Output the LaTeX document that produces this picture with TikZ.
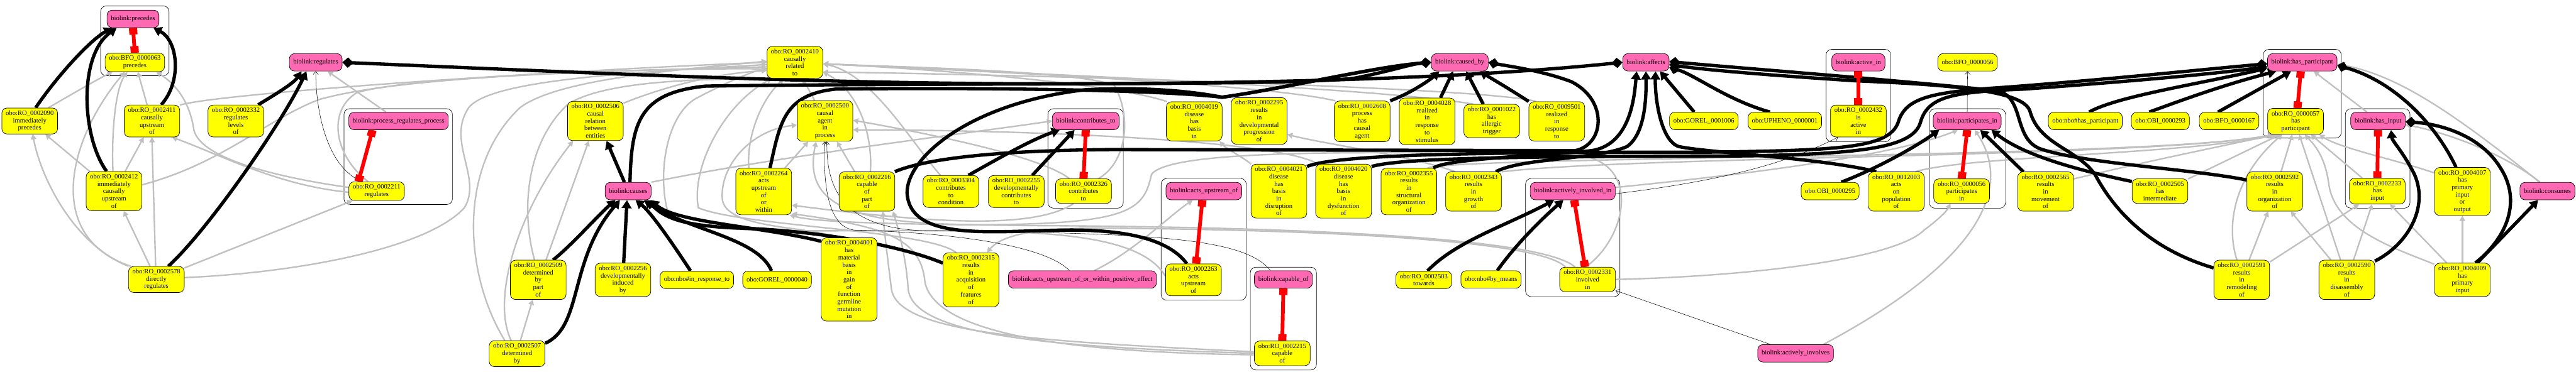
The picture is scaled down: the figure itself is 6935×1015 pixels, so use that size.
\documentclass[tikz,border=0pt]{standalone}
\usepackage{fontspec}
\setmainfont{Liberation Serif}
\usetikzlibrary{arrows.meta}
\pgfdeclarelayer{bg}
\pgfsetlayers{bg,main}
\definecolor{yel}{HTML}{FFFF00}
\definecolor{pnk}{HTML}{FF69B4}
\definecolor{edgegray}{HTML}{C0C0C0}
\newcommand{\nf}{\fontsize{18}{19.8}\selectfont}
\tikzset{
 nd/.style={draw=black, line width=1.2pt, rounded corners=14pt, align=center, inner xsep=10.5pt, inner ysep=7pt, minimum height=47pt, font=\nf},
 yel/.style={nd, fill=yel},
 pnk/.style={nd, fill=pnk},
 gedge/.style={draw=edgegray, line width=4pt, -{Triangle[width=15pt,length=14pt]}},
 bedge/.style={draw=black, line width=9pt, -{Triangle[width=26pt,length=22pt]}},
 dedge/.style={draw=black, line width=9pt, -{Diamond[width=28pt,length=30pt]}},
 ddedge/.style={draw=black, line width=9pt, {Diamond[width=28pt,length=30pt]}-{Diamond[width=28pt,length=30pt]}},
 redge/.style={draw=red, line width=10pt, {Rectangle[width=22pt,length=18pt]}-{Rectangle[width=22pt,length=18pt]}},
 tedge/.style={draw=black, line width=0.9pt, -{Straight Barb[length=8pt,width=14pt]}},
 clus/.style={draw=black, line width=1.1pt, rounded corners=15pt},
}
\begin{document}
\begin{tikzpicture}[x=1pt,y=-1pt]
\useasboundingbox (0,0) rectangle (6935,1015);
% ---------------- nodes ----------------
\node[pnk] (pPrec) at (358,51) {biolink:precedes};
\node[yel] (n63) at (363,168) {obo:BFO\_0000063\\precedes};
\node[yel] (n2090) at (80,326) {obo:RO\_0002090\\immediately\\precedes};
\node[yel] (n2411) at (409,326) {obo:RO\_0002411\\causally\\upstream\\of};
\node[yel] (n2412) at (307,515) {obo:RO\_0002412\\immediately\\causally\\upstream\\of};
\node[yel] (n2578) at (421,753) {obo:RO\_0002578\\directly\\regulates};
\node[yel] (n2332) at (635,326) {obo:RO\_0002332\\regulates\\levels\\of};
\node[pnk] (pReg) at (850,168) {biolink:regulates};
\node[pnk] (pPRP) at (1073,326) {biolink:process\_regulates\_process};
\node[yel] (n2211) at (1014,515) {obo:RO\_0002211\\regulates};
\node[yel] (n2506) at (1603,326) {obo:RO\_0002506\\causal\\relation\\between\\entities};
\node[pnk] (pCauses) at (1691,515) {biolink:causes};
\node[yel] (n2509) at (1449,754) {obo:RO\_0002509\\determined\\by\\part\\of};
\node[yel] (n2256) at (1677,754) {obo:RO\_0002256\\developmentally\\induced\\by};
\node[yel] (n2507) at (1392,953) {obo:RO\_0002507\\determined\\by};
\node[yel] (n2410) at (2140,168) {obo:RO\_0002410\\causally\\related\\to};
\node[yel] (n2500) at (2221,326) {obo:RO\_0002500\\causal\\agent\\in\\process};
\node[yel] (n2264) at (2056,516) {obo:RO\_0002264\\acts\\upstream\\of\\or\\within};
\node[yel] (n2216) at (2334,516) {obo:RO\_0002216\\capable\\of\\part\\of};
\node[yel] (nInResp) at (1876,754) {obo:nbo\#in\_response\_to};
\node[yel] (nG40) at (2092,754) {obo:GOREL\_0000040};
\node[yel] (n4001) at (2286,753) {obo:RO\_0004001\\has\\material\\basis\\in\\gain\\of\\function\\germline\\mutation\\in};
\node[yel] (n3304) at (2560,516) {obo:RO\_0003304\\contributes\\to\\condition};
\node[yel] (n2255) at (2736,516) {obo:RO\_0002255\\developmentally\\contributes\\to};
\node[pnk] (pContrib) at (2923,326) {biolink:contributes\_to};
\node[yel] (n2326) at (2917,515) {obo:RO\_0002326\\contributes\\to};
\node[yel] (n2315) at (2614,754) {obo:RO\_0002315\\results\\in\\acquisition\\of\\features\\of};
\node[pnk] (pAUOWPE) at (2914,753) {biolink:acts\_upstream\_of\_or\_within\_positive\_effect};
\node[yel] (n4019) at (3215,327) {obo:RO\_0004019\\disease\\has\\basis\\in};
\node[yel] (n2295) at (3390,326) {obo:RO\_0002295\\results\\in\\developmental\\progression\\of};
\node[yel] (n4021) at (3443,515) {obo:RO\_0004021\\disease\\has\\basis\\in\\disruption\\of};
\node[pnk] (pAUO) at (3241,515) {biolink:acts\_upstream\_of};
\node[yel] (n2263) at (3213,754) {obo:RO\_0002263\\acts\\upstream\\of};
\node[pnk] (pCapable) at (3455,753) {biolink:capable\_of};
\node[yel] (n2215) at (3452,952) {obo:RO\_0002215\\capable\\of};
\node[pnk] (pCausedBy) at (3930,168) {biolink:caused\_by};
\node[yel] (n2608) at (3667,327) {obo:RO\_0002608\\process\\has\\causal\\agent};
\node[yel] (n4028) at (3842,327) {obo:RO\_0004028\\realized\\in\\response\\to\\stimulus};
\node[yel] (n1022) at (4016,326) {obo:RO\_0001022\\has\\allergic\\trigger};
\node[yel] (n4020) at (3617,515) {obo:RO\_0004020\\disease\\has\\basis\\in\\dysfunction\\of};
\node[yel] (n2355) at (3793,516) {obo:RO\_0002355\\results\\in\\structural\\organization\\of};
\node[yel] (n2343) at (3967,516) {obo:RO\_0002343\\results\\in\\growth\\of};
\node[yel] (n2503) at (3833,754) {obo:RO\_0002503\\towards};
\node[yel] (nByMeans) at (4014,753) {obo:nbo\#by\_means};
\node[yel] (n9501) at (4191,327) {obo:RO\_0009501\\realized\\in\\response\\to};
\node[pnk] (pAffects) at (4431,168) {biolink:affects};
\node[yel] (nG1006) at (4587,326) {obo:GOREL\_0001006};
\node[pnk] (pAII) at (4234,515) {biolink:actively\_involved\_in};
\node[yel] (n2331) at (4274,753) {obo:RO\_0002331\\involved\\in};
\node[yel] (nUpheno) at (4805,326) {obo:UPHENO\_0000001};
\node[pnk] (pActiveIn) at (5003,168) {biolink:active\_in};
\node[yel] (n2432) at (5003,326) {obo:RO\_0002432\\is\\active\\in};
\node[yel] (nOBI295) at (4927,515) {obo:OBI\_0000295};
\node[yel] (n12003) at (5105,516) {obo:RO\_0012003\\acts\\on\\population\\of};
\node[pnk] (pActInv) at (4834,952) {biolink:actively\_involves};
\node[yel] (nBFO56) at (5297,168) {obo:BFO\_0000056};
\node[pnk] (pPartIn) at (5296,326) {biolink:participates\_in};
\node[yel] (n0056) at (5281,515) {obo:RO\_0000056\\participates\\in};
\node[yel] (n2565) at (5507,516) {obo:RO\_0002565\\results\\in\\movement\\of};
\node[yel] (nNboHP) at (5614,326) {obo:nbo\#has\_participant};
\node[yel] (nOBI293) at (5816,326) {obo:OBI\_0000293};
\node[yel] (n2505) at (5815,515) {obo:RO\_0002505\\has\\intermediate};
\node[yel] (nBFO167) at (6001,326) {obo:BFO\_0000167};
\node[pnk] (pHasPart) at (6198,168) {biolink:has\_participant};
\node[yel] (n0057) at (6180,327) {obo:RO\_0000057\\has\\participant};
\node[yel] (n2592) at (6124,516) {obo:RO\_0002592\\results\\in\\organization\\of};
\node[yel] (n2591) at (6035,754) {obo:RO\_0002591\\results\\in\\remodeling\\of};
\node[yel] (n2590) at (6318,754) {obo:RO\_0002590\\results\\in\\disassembly\\of};
\node[pnk] (pHasInput) at (6402,326) {biolink:has\_input};
\node[yel] (n2233) at (6400,515) {obo:RO\_0002233\\has\\input};
\node[yel] (n4007) at (6629,516) {obo:RO\_0004007\\has\\primary\\input\\or\\output};
\node[yel] (n4009) at (6629,754) {obo:RO\_0004009\\has\\primary\\input};
\node[pnk] (pConsumes) at (6858,515) {biolink:consumes};
% ---------------- background: clusters and edges ----------------
\begin{pgfonlayer}{bg}
\draw[clus] (271,16) rectangle (455,204);
\draw[clus] (926,293) rectangle (1218,551);
\draw[clus] (2821,293) rectangle (3024,561);
\draw[clus] (3126,481) rectangle (3355,809);
\draw[clus] (3366,720) rectangle (3544,997);
\draw[clus] (4107,481) rectangle (4361,799);
\draw[clus] (4916,133) rectangle (5090,382);
\draw[clus] (5194,293) rectangle (5399,561);
\draw[clus] (6093,133) rectangle (6303,372);
\draw[clus] (6314,293) rectangle (6488,561);
% gray edges
\draw[gedge] ([xshift=50pt]n2090.north) .. controls (200,250) and (260,215) .. ([xshift=-60pt]n63.south);
\draw[gedge] ([xshift=-3pt]n2412.north) .. controls (300,360) and (310,240) .. ([xshift=-20pt]n63.south);
\draw[gedge] ([xshift=-69pt]n2578.north) .. controls (120,640) and (180,380) .. ([xshift=-27pt]n63.south);
\draw[gedge] ([xshift=-13pt]n2411.north) -- ([xshift=8pt]n63.south);
\draw[gedge] ([yshift=10pt]n2211.west) .. controls (760,480) and (540,430) .. (522,350) .. controls (510,270) and (470,225) .. ([xshift=58pt]n63.south);
\draw[gedge] ([yshift=17pt]n2412.east) .. controls (600,440) and (720,320) .. (860,268) .. controls (1100,200) and (1700,190) .. ([yshift=-12pt]n2410.west);
\draw[gedge] ([xshift=-66pt]n2412.north) -- ([xshift=42pt]n2090.south);
\draw[gedge] ([xshift=-75pt]n2578.north) .. controls (200,660) and (110,480) .. ([xshift=8pt]n2090.south);
\draw[gedge] ([xshift=30pt]n2412.north) -- ([xshift=-22pt]n2411.south);
\draw[gedge] ([xshift=-2pt]n2578.north) -- (n2411.south);
\draw[gedge] ([xshift=-17pt]n2578.north) -- ([xshift=26pt]n2412.south);
\draw[gedge] ([yshift=-3pt]n2211.west) .. controls (750,500) and (600,420) .. ([xshift=54pt]n2411.south);
\draw[gedge] ([yshift=43pt]n2411.east) .. controls (600,250) and (1500,190) .. (n2410.west);
\draw[gedge] ([yshift=31pt]n2578.east) -- ([xshift=-65pt]n2211.south);
\draw[gedge] ([yshift=5pt]n2578.east) .. controls (800,735) and (1150,670) .. (1250,560) .. controls (1300,480) and (1200,380) .. (1262,290) .. controls (1320,215) and (1700,195) .. ([yshift=-6pt]n2410.west);
\draw[gedge] ([xshift=-34pt]pPRP.north) -- ([xshift=32pt]pReg.south);
\draw[gedge] ([xshift=-23pt]n2211.north) .. controls (900,420) and (880,300) .. (960,250) .. controls (1100,205) and (1800,182) .. ([yshift=-18pt]n2410.west);
\draw[gedge] ([yshift=48pt]n2506.east) .. controls (1760,245) and (1900,200) .. ([yshift=-22pt]n2410.west);
\draw[gedge] ([xshift=21pt]n2509.north) -- ([xshift=-18pt]n2506.south);
\draw[gedge] ([xshift=-16pt]n2507.north) .. controls (1320,800) and (1400,560) .. ([xshift=-60pt]n2506.south);
\draw[gedge] ([xshift=9pt]n2507.north) -- ([xshift=-15pt]n2509.south);
\draw[gedge] ([xshift=-33pt]n2507.north) .. controls (1250,740) and (1230,450) .. (1400,290) .. controls (1500,215) and (1800,190) .. ([yshift=3pt]n2410.west);
\draw[gedge] ([xshift=-10pt]n2509.north) .. controls (1400,560) and (1420,380) .. (1530,280) .. controls (1650,205) and (1990,215) .. ([xshift=-60pt]n2410.south);
\draw[gedge] ([xshift=-28pt]n2500.north) -- ([xshift=21pt]n2410.south);
\draw[gedge] ([xshift=-40pt]n2264.north) .. controls (2010,380) and (2040,280) .. ([xshift=-30pt]n2410.south);
\draw[gedge] ([xshift=57pt]n2264.north) -- ([xshift=-45pt]n2500.south);
\draw[gedge] ([xshift=-33pt]n2216.north) -- ([xshift=32pt]n2500.south);
\draw[gedge] ([xshift=9pt]n2216.north) .. controls (2350,380) and (2320,250) .. ([yshift=-26pt]n2410.east);
\draw[gedge] ([xshift=-28pt]n3304.north) .. controls (2450,380) and (2350,200) .. ([yshift=-4pt]n2410.east);
\draw[gedge] (pCauses.north east) .. controls (2100,420) and (2600,360) .. (pContrib.west);
\draw[gedge] ([xshift=40pt]n2326.north) .. controls (3030,440) and (3050,320) .. (3000,230) .. controls (2900,190) and (2400,180) .. ([yshift=-4pt]n2410.east);
\draw[gedge] ([xshift=-38pt]n2326.north) .. controls (2800,420) and (2500,360) .. ([yshift=2pt]n2500.east);
\draw[gedge] ([xshift=-27pt]n2326.south) .. controls (2780,620) and (2500,600) .. ([yshift=-37pt]n2264.east);
\draw[gedge] ([xshift=-34pt]n2331.north) .. controls (4150,640) and (3500,612) .. (2800,608) .. controls (2400,604) and (2200,600) .. ([xshift=70pt]n2264.south);
\draw[gedge] ([yshift=4pt]n2215.west) .. controls (2800,920) and (2420,900) .. (2400,780) .. controls (2390,700) and (2380,620) .. ([xshift=43pt]n2216.south);
\draw[gedge] (n2215.west) .. controls (2800,935) and (2460,900) .. (2445,780) .. controls (2440,700) and (2420,620) .. ([xshift=70pt]n2216.south);
\draw[gedge] ([yshift=-4pt]n2215.west) .. controls (2900,950) and (2520,905) .. (2490,760) .. controls (2480,650) and (2400,612) .. ([yshift=-60pt]n2264.east);
\draw[gedge] ([xshift=32pt]pAUOWPE.north) .. controls (3050,680) and (3150,580) .. ([xshift=-30pt]pAUO.south);
\draw[gedge] ([xshift=-74pt]n4019.north) .. controls (3000,225) and (2500,185) .. ([yshift=-4pt]n2410.east);
\draw[gedge] ([xshift=-75pt]n4021.north) .. controls (3340,420) and (3300,400) .. ([xshift=68pt]n4019.south);
\draw[gedge] ([xshift=-50pt]n2343.north) .. controls (3800,420) and (3550,385) .. ([yshift=-36pt]n2295.east);
\draw[gedge] ([xshift=-72pt]n2608.north) .. controls (3400,225) and (2600,190) .. ([yshift=-4pt]n2410.east);
\draw[gedge] ([xshift=-50pt]n1022.north) .. controls (3700,235) and (2700,195) .. ([yshift=-4pt]n2410.east);
\draw[gedge] ([xshift=-70pt]n4020.north) .. controls (3450,380) and (2800,350) .. ([yshift=-24pt]n2500.east);
\draw[gedge] ([xshift=-55pt]n9501.north) .. controls (4000,235) and (2700,200) .. ([yshift=-26pt]n2410.east);
\draw[gedge] ([yshift=10pt]pAII.east) .. controls (4700,470) and (5100,420) .. ([xshift=-25pt]pPartIn.south);
\draw[gedge] (n2331.east) .. controls (4700,745) and (5100,700) .. (5180,620) .. controls (5220,590) and (5240,570) .. ([xshift=-30pt]n0056.south);
\draw[gedge] ([xshift=75pt]pActInv.north) .. controls (5300,720) and (5430,520) .. ([xshift=20pt]pPartIn.south);
\draw[gedge] ([yshift=34pt]n2565.east) .. controls (5800,430) and (6000,390) .. ([xshift=-55pt]n0057.south);
\draw[gedge] ([yshift=33pt]n2505.east) .. controls (5980,440) and (6080,390) .. ([xshift=-40pt]n0057.south);
\draw[gedge] ([xshift=52pt]n12003.north) .. controls (5300,420) and (5900,415) .. ([xshift=-50pt]n0057.south);
\draw[gedge] ([yshift=53pt]n2343.east) .. controls (4400,420) and (5800,425) .. ([xshift=-60pt]n0057.south);
\draw[gedge] ([xshift=50pt]n2355.north) .. controls (3950,420) and (5800,428) .. ([xshift=-60pt]n0057.south);
\draw[gedge] ([yshift=50pt]n4007.west) .. controls (6450,430) and (6300,400) .. ([xshift=64pt]n0057.south);
\draw[gedge] ([xshift=17pt]n2592.north) -- ([xshift=-9pt]n0057.south);
\draw[gedge] ([xshift=-13pt]n2591.north) .. controls (5990,600) and (6020,470) .. ([xshift=-36pt]n0057.south);
\draw[gedge] ([xshift=-17pt]n2590.north) -- ([xshift=10pt]n0057.south);
\draw[gedge] ([xshift=-43pt]n2590.north) -- ([xshift=43pt]n2592.south);
\draw[gedge] ([xshift=20pt]n2591.north) -- ([xshift=-18pt]n2592.south);
\draw[gedge] ([yshift=48pt]n2591.east) -- ([xshift=-49pt]n2233.south);
\draw[gedge] ([xshift=18pt]n2590.north) -- ([xshift=-14pt]n2233.south);
\draw[gedge] ([xshift=-41pt]n2233.north) -- ([xshift=41pt]n0057.south);
\draw[gedge] ([yshift=42pt]n4009.west) .. controls (6450,670) and (6290,620) .. (6270,500) .. controls (6260,420) and (6230,390) .. ([xshift=25pt]n0057.south);
\draw[gedge] ([xshift=-42pt]n4009.north) -- ([xshift=34pt]n2233.south);
\draw[gedge] (n4009.north) -- (n4007.south);
\draw[gedge] ([xshift=-30pt]pHasInput.north) -- ([xshift=31pt]pHasPart.south);
\draw[gedge] ([xshift=-20pt]pConsumes.north) .. controls (6750,420) and (6600,360) .. ([yshift=-10pt]pHasInput.east);
\draw[gedge] ([xshift=-21pt]pConsumes.north) .. controls (6600,300) and (6450,200) .. ([yshift=-5pt]pHasPart.east);
\draw[gedge] ([xshift=-5pt]n2331.north) .. controls (4380,640) and (4420,440) .. (4250,418) .. controls (3700,408) and (3150,400) .. (3100,470) .. controls (3080,560) and (3050,600) .. (2700,605) .. controls (2300,610) and (2160,560) .. ([xshift=-24pt]n2500.south);
\draw[gedge] ([xshift=-60pt]n2331.north) .. controls (4150,650) and (3600,620) .. (3000,615) .. controls (2800,612) and (2700,630) .. ([xshift=43pt]n2315.north);
\draw[gedge] ([yshift=10pt]n2263.west) .. controls (3080,650) and (2900,625) .. (2600,622) .. controls (2100,618) and (1830,640) .. (1795,560) .. controls (1770,450) and (1800,300) .. (1880,262) .. controls (1960,220) and (2020,195) .. ([yshift=-15pt]n2410.west);
\draw[gedge] ([xshift=-40pt]n2315.north) .. controls (2500,620) and (2000,610) .. (1880,560) .. controls (1860,450) and (1950,280) .. ([xshift=-62pt]n2410.south);
\draw[gedge] ([xshift=-40pt]n4001.north) .. controls (2200,610) and (1960,620) .. (1945,540) .. controls (1935,450) and (2020,350) .. ([yshift=-11pt]n2500.west);
% thin black edges
\draw[tedge] ([xshift=-40pt]n2211.north) .. controls (880,450) and (850,300) .. (pReg.south);
\draw[tedge] ([xshift=-35pt]pAUOWPE.north) .. controls (2800,650) and (2500,625) .. (2300,620) .. controls (2230,612) and (2215,500) .. (n2500.south);
\draw[tedge] ([xshift=-35pt]pCapable.north) .. controls (3350,640) and (3100,628) .. (2500,622) .. controls (2260,618) and (2225,500) .. ([xshift=5pt]n2500.south);
\draw[tedge] ([xshift=-68pt]pActInv.north) -- ([yshift=-30pt]n2331.east);
\draw[tedge] ([yshift=-7pt]pAII.east) .. controls (4700,480) and (4850,420) .. ([xshift=-55pt]n2432.south);
\draw[tedge] (pPartIn.north) -- (nBFO56.south);
% black edges
\draw[bedge] ([xshift=16pt]n2090.north) .. controls (150,210) and (240,110) .. ([xshift=-56pt]pPrec.south);
\draw[bedge] ([xshift=-20pt]n2412.north) .. controls (220,370) and (210,150) .. ([xshift=-44pt]pPrec.south);
\draw[bedge] ([xshift=25pt]n2411.north) .. controls (490,220) and (480,110) .. ([xshift=55pt]pPrec.south);
\draw[bedge] ([xshift=32pt]n2578.north) .. controls (560,620) and (760,330) .. ([xshift=-25pt]pReg.south);
\draw[bedge] ([xshift=60pt]n2332.north) .. controls (740,255) and (790,225) .. ([xshift=-38pt]pReg.south);
\draw[bedge] ([xshift=40pt]n2509.north) .. controls (1540,660) and (1610,580) .. ([xshift=-34pt]pCauses.south);
\draw[bedge] ([yshift=28pt]n2507.east) .. controls (1570,880) and (1530,700) .. ([xshift=-22pt]pCauses.south);
\draw[bedge] ([xshift=2pt]n2256.north) -- ([xshift=-3pt]pCauses.south);
\draw[bedge] ([xshift=-10pt]pCauses.north) -- ([xshift=30pt]n2506.south);
\draw[bedge] ([xshift=-17pt]nInResp.north) .. controls (1800,640) and (1750,570) .. ([xshift=20pt]pCauses.south);
\draw[bedge] ([xshift=-15pt]nG40.north) .. controls (2040,640) and (1850,620) .. ([xshift=-20pt]pCauses.south east);
\draw[bedge] ([yshift=-10pt]n4001.north west) .. controls (2050,610) and (1820,600) .. ([xshift=-2pt]pCauses.south east);
\draw[bedge] ([yshift=45pt]n2315.west) .. controls (2420,660) and (2200,622) .. (2000,615) .. controls (1850,610) and (1790,590) .. ([xshift=-10pt]pCauses.south east);
\draw[ddedge] (pReg.east) .. controls (2000,215) and (2500,235) .. (3300,222) .. controls (3900,212) and (4200,185) .. (pAffects.west);
\draw[dedge] ([xshift=5pt]pCauses.north) .. controls (1700,330) and (1720,250) .. (1900,232) .. controls (2600,222) and (3500,232) .. (3650,210) .. controls (3750,190) and (3800,172) .. (pCausedBy.west);
\draw[bedge] (n2608.north east) .. controls (3800,250) and (3850,215) .. ([xshift=-55pt]pCausedBy.south);
\draw[bedge] ([xshift=36pt]n4028.north) -- ([xshift=-18pt]pCausedBy.south);
\draw[bedge] ([xshift=-23pt]n1022.north) -- ([xshift=17pt]pCausedBy.south);
\draw[bedge] (n9501.north west) .. controls (4080,250) and (4030,220) .. ([xshift=53pt]pCausedBy.south);
\draw[dedge] ([xshift=75pt]n2216.north) .. controls (2500,425) and (2700,405) .. (3000,403) -- (4240,406) .. controls (4320,390) and (4330,270) .. (4230,220) .. controls (4150,190) and (4070,180) .. (pCausedBy.east);
\draw[dedge] ([xshift=17pt]n2264.north) .. controls (2100,330) and (2110,255) .. (2250,240) .. controls (2600,236) and (3100,240) .. (3290,262) .. controls (3450,240) and (3700,180) .. (pCausedBy.west);
\draw[dedge] ([xshift=-18pt]n2263.north) .. controls (3150,650) and (3050,622) .. (2900,620) .. controls (2700,618) and (2450,660) .. (2442,520) .. controls (2440,430) and (2600,280) .. (2920,242) .. controls (3100,232) and (3230,250) .. (3290,262) .. controls (3450,240) and (3700,180) .. (pCausedBy.west);
\draw[bedge] ([xshift=66pt]n2355.north) .. controls (3900,425) and (4200,418) .. (4290,405) .. controls (4390,385) and (4400,260) .. ([xshift=-25pt]pAffects.south);
\draw[bedge] ([xshift=60pt]n2343.north) .. controls (4100,425) and (4300,430) .. (4380,395) .. controls (4430,360) and (4432,260) .. (pAffects.south);
\draw[bedge] ([xshift=-54pt]n12003.north) .. controls (4900,425) and (4600,412) .. (4520,395) .. controls (4470,380) and (4455,260) .. ([xshift=26pt]pAffects.south);
\draw[bedge] ([xshift=-26pt]nG1006.north) -- ([xshift=-25pt]pAffects.south east);
\draw[dedge] ([xshift=-40pt]nUpheno.north) .. controls (4650,270) and (4560,200) .. ([yshift=-14pt]pAffects.east);
\draw[dedge] ([yshift=31pt]n2592.west) .. controls (5900,455) and (5600,440) .. (5490,400) .. controls (5420,370) and (5450,265) .. (5380,245) .. controls (5100,215) and (4700,185) .. ([yshift=2pt]pAffects.east);
\draw[dedge] ([yshift=32pt]n2591.west) .. controls (5850,690) and (5720,620) .. (5640,470) .. controls (5590,400) and (5490,390) .. (5465,300) .. controls (5450,250) and (5300,230) .. (5000,218) .. controls (4800,205) and (4600,190) .. ([yshift=-6pt]pAffects.east);
\draw[dedge] ([yshift=-7pt]n4021.north east) .. controls (3600,415) and (4000,410) .. (4600,410) .. controls (4950,405) and (5085,400) .. (5110,330) .. controls (5130,262) and (5200,248) .. (5400,235) .. controls (5700,212) and (5950,185) .. ([yshift=-4pt]pHasPart.west);
\draw[dedge] ([yshift=-7pt]n4020.north east) .. controls (3780,422) and (4200,422) .. (4700,420) .. controls (5000,415) and (5150,400) .. (5170,330) .. controls (5190,258) and (5260,248) .. (5450,240) .. controls (5750,218) and (5950,200) .. ([yshift=-12pt]pHasPart.west);
\draw[bedge] ([xshift=30pt]nOBI295.north) .. controls (5050,455) and (5150,400) .. ([xshift=-75pt]pPartIn.south);
\draw[bedge] ([xshift=-60pt]n2565.north) -- ([xshift=35pt]pPartIn.south);
\draw[bedge] ([yshift=26pt]n2505.west) .. controls (5600,460) and (5450,420) .. ([xshift=65pt]pPartIn.south);
\draw[bedge] ([xshift=10pt]nNboHP.north) .. controls (5700,260) and (5900,230) .. ([yshift=-16pt]pHasPart.west);
\draw[bedge] ([xshift=-30pt]nOBI293.north) .. controls (5900,260) and (6000,225) .. ([xshift=-70pt]pHasPart.south);
\draw[bedge] ([xshift=-30pt]nBFO167.north) -- ([xshift=-30pt]pHasPart.south);
\draw[dedge] ([xshift=-17pt]n4007.north) .. controls (6560,340) and (6450,220) .. ([yshift=-8pt]pHasPart.east);
\draw[bedge] ([yshift=-3pt]n2590.north east) .. controls (6480,660) and (6540,560) .. (6500,470) .. controls (6470,410) and (6440,380) .. ([xshift=35pt]pHasInput.south);
\draw[dedge] ([xshift=35pt]n4009.north) .. controls (6750,640) and (6790,540) .. (6730,450) .. controls (6680,370) and (6580,335) .. ([yshift=-2pt]pHasInput.east);
\draw[bedge] ([xshift=40pt]n4009.north) -- ([xshift=-25pt]pConsumes.south);
\draw[bedge] ([xshift=10pt]n2503.north) .. controls (3920,650) and (4050,610) .. ([xshift=-50pt]pAII.south);
\draw[bedge] ([xshift=17pt]nByMeans.north) .. controls (4080,660) and (4150,590) .. ([xshift=-25pt]pAII.south);
\draw[bedge] ([xshift=47pt]n3304.north) .. controls (2700,420) and (2780,375) .. ([xshift=-70pt]pContrib.south);
\draw[bedge] ([xshift=43pt]n2255.north) -- ([xshift=-30pt]pContrib.south);
% red mapping edges
\draw[redge] (pPrec.south) -- (n63.north);
\draw[redge] ([xshift=-70pt]pPRP.south) -- ([xshift=-49pt]n2211.north);
\draw[redge] (pContrib.south) -- (n2326.north);
\draw[redge] ([xshift=-4pt]pAUO.south) -- ([xshift=7pt]n2263.north);
\draw[redge] (pCapable.south) -- (n2215.north);
\draw[redge] ([xshift=4pt]pAII.south) -- ([xshift=-7pt]n2331.north);
\draw[redge] (pActiveIn.south) -- (n2432.north);
\draw[redge] (pPartIn.south) -- (n0056.north);
\draw[redge] ([xshift=-4pt]pHasPart.south) -- ([xshift=5pt]n0057.north);
\draw[redge] (pHasInput.south) -- (n2233.north);
\end{pgfonlayer}
\end{tikzpicture}
\end{document}
